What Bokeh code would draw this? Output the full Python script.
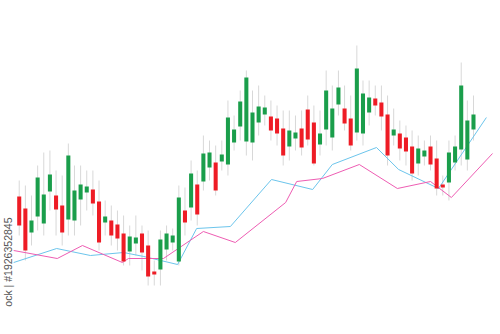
import math
from bokeh.plotting import figure
from bokeh.models import ColumnDataSource, Label
from bokeh.embed import file_html
from bokeh.resources import INLINE

# ---- data (arbitrary price units) ----
opens = [104, 92, 68, 84, 77, 109, 105, 95, 81, 80, 101, 108, 111, 99, 78, 80, 76, 67, 49, 57,
         67, 55, 29, 31, 51, 58, 39, 90, 93, 116, 119, 133, 138, 139, 136, 158, 174, 159, 158, 178,
         186, 184, 182, 172, 154, 162, 172, 191, 178, 156, 171, 163, 196, 192, 182, 168, 167, 188, 202, 198,
         186, 165, 167, 163, 154, 137, 144, 154, 142, 116, 118, 138, 151, 141, 171]
closes = [75, 50, 80, 123, 106, 126, 91, 68, 145, 110, 116, 114, 97, 58, 84, 65, 62, 39, 64, 63,
          48, 24, 26, 61, 67, 65, 103, 78, 127, 86, 147, 148, 110, 146, 183, 171, 199, 223, 188, 194,
          193, 170, 167, 145, 170, 168, 153, 161, 137, 167, 210, 192, 213, 177, 155, 232, 207, 203, 195, 184,
          145, 171, 152, 149, 127, 152, 150, 136, 112, 113, 148, 154, 215, 180, 186]
highs = [120, 115, 105, 135, 148, 150, 130, 125, 157, 135, 135, 130, 130, 120, 100, 95, 90, 85, 75, 85,
         75, 70, 40, 70, 75, 72, 115, 113, 140, 130, 165, 160, 155, 160, 200, 185, 210, 230, 210, 215,
         205, 200, 195, 190, 190, 185, 190, 205, 195, 190, 230, 215, 230, 215, 205, 255, 220, 220, 215, 215,
         205, 192, 180, 175, 170, 165, 160, 165, 160, 125, 160, 165, 238, 200, 205]
lows = [65, 40, 55, 70, 65, 90, 65, 55, 65, 65, 75, 90, 85, 50, 65, 55, 50, 35, 35, 45,
        30, 15, 15, 15, 40, 50, 35, 65, 80, 75, 110, 120, 105, 130, 125, 150, 160, 145, 140, 165,
        175, 160, 155, 135, 140, 150, 145, 155, 135, 145, 155, 150, 185, 170, 150, 160, 155, 175, 185, 170,
        135, 155, 140, 135, 120, 125, 135, 130, 105, 105, 100, 130, 135, 130, 160]
idx = list(range(1, len(opens) + 1))

blue_x = [0.1, 7.1, 12.6, 18.0, 21.3, 26.8, 29.9, 35.4, 42.1, 48.8, 52.0, 59.2, 62.8, 69.3, 77.1]
blue_y = [38, 52, 45, 48, 44, 36, 72, 74, 121, 111, 136, 153, 131, 112, 183]
pink_x = [0.1, 7.2, 11.3, 17.8, 18.8, 24.5, 31.0, 36.2, 44.4, 46.2, 50.4, 56.4, 62.6, 68.0, 71.4, 78.1]
pink_y = [50, 42, 55, 38, 42, 42, 69, 58, 98, 119, 122, 136, 112, 119, 103, 147]

watermark = "ock | #1926352845"

UP = "#1a9e4b"
DOWN = "#ee1c25"

top = [max(o, c) for o, c in zip(opens, closes)]
bot = [min(o, c) for o, c in zip(opens, closes)]
col = [UP if c >= o else DOWN for o, c in zip(opens, closes)]
src = ColumnDataSource(dict(x=idx, o=opens, c=closes, h=highs, l=lows, top=top, bot=bot, col=col))

p = figure(width=500, height=334, output_backend="svg", toolbar_location=None,
           x_range=(-2.05, 79.4), y_range=(-34, 300), min_border=0)
p.axis.visible = False
p.grid.visible = False
p.outline_line_color = None
p.background_fill_color = "white"
p.border_fill_color = "white"

p.segment(x0="x", x1="x", y0="l", y1="h", source=src, line_color="#d8d8d8", line_width=1)
p.line(blue_x, blue_y, line_color="#6cc5ec", line_width=1)
p.line(pink_x, pink_y, line_color="#ee5db3", line_width=1)
p.vbar(x="x", top="top", bottom="bot", width=0.66, source=src, fill_color="col", line_color=None)

p.add_layout(Label(x=7, y=117, x_units="screen", y_units="screen", text=watermark,
                   angle=math.pi / 2, text_align="right", text_baseline="middle",
                   text_font="Liberation Sans", text_font_size="10.5px", text_color="#555555"))

open("out.html", "w").write(file_html(p, INLINE))
